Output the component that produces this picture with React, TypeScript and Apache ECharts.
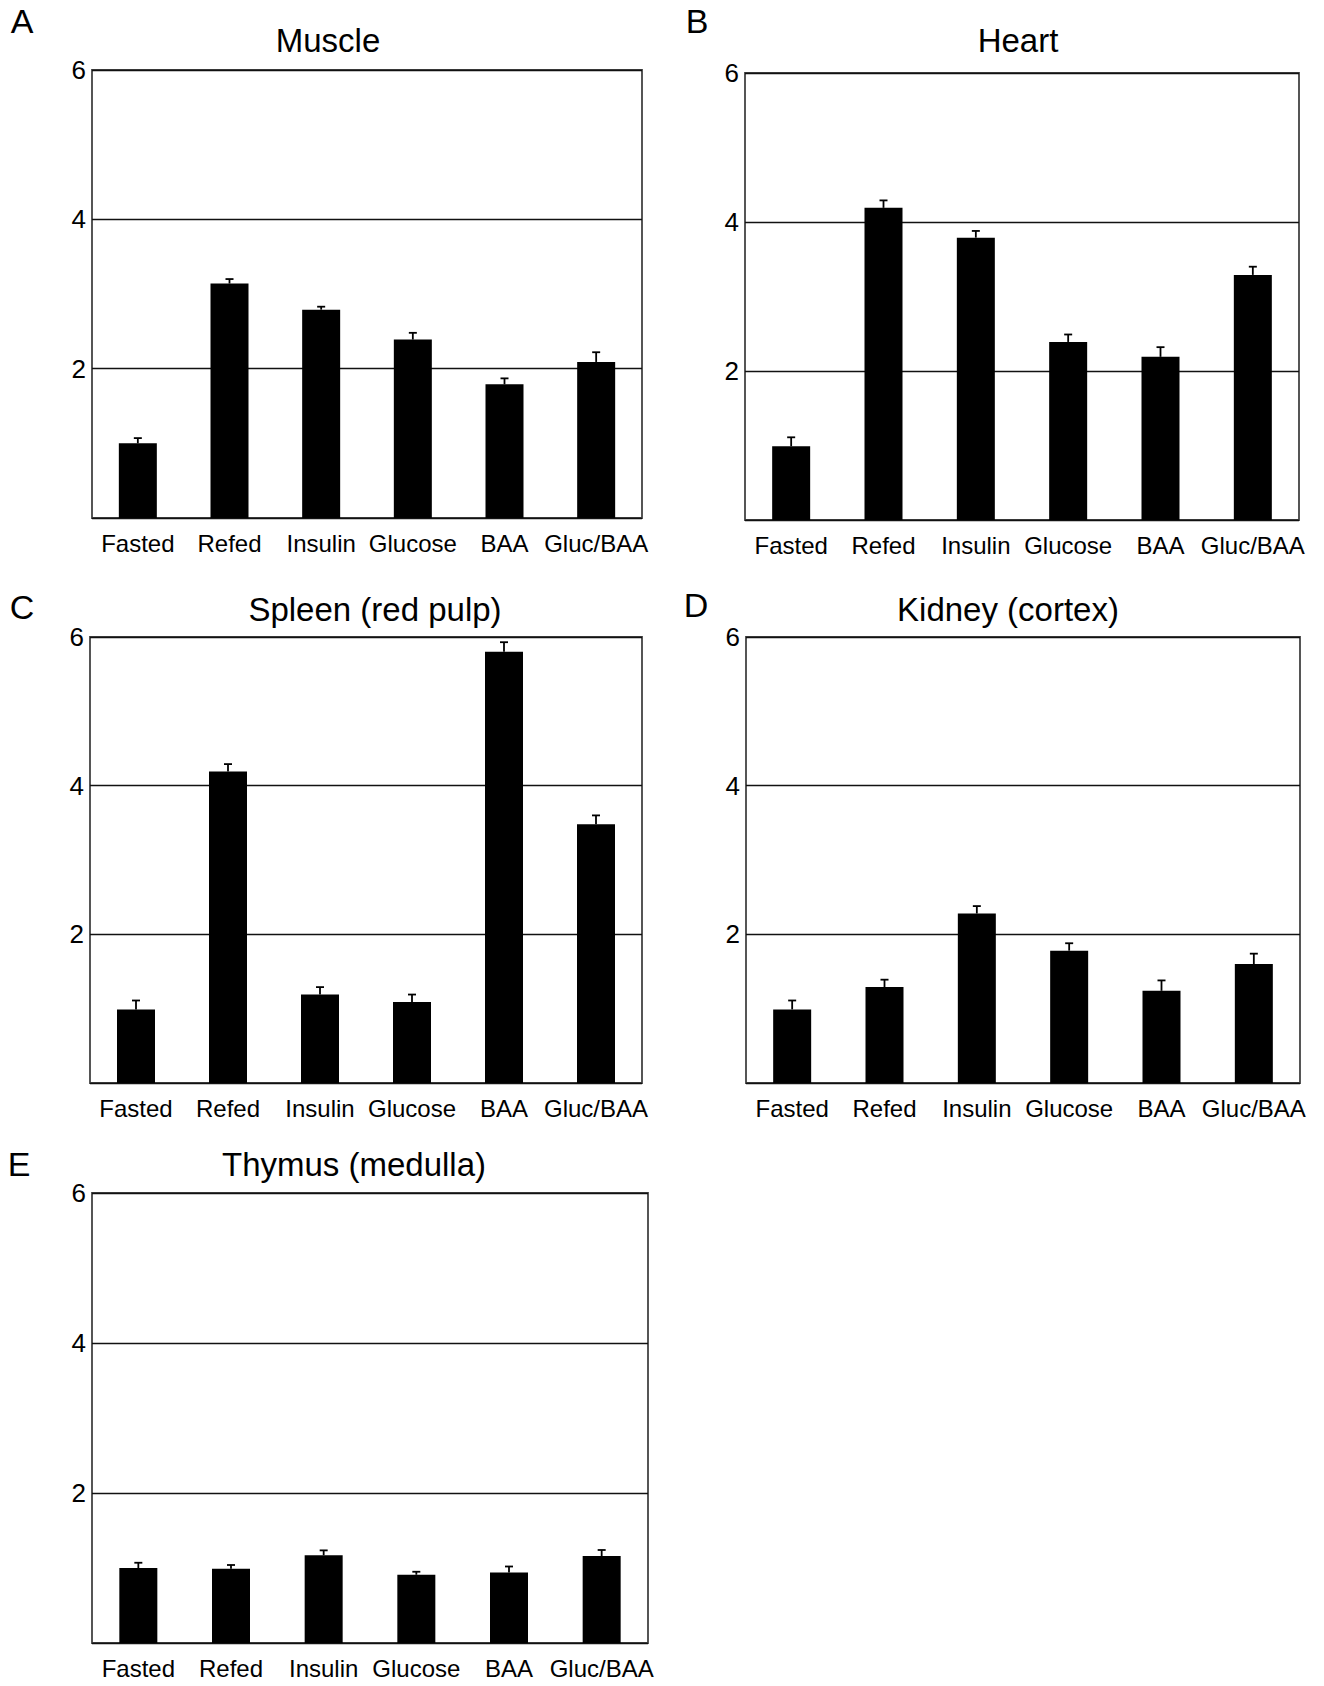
import React, { useEffect, useRef } from "react";
import * as echarts from "echarts";

const categories = ["Fasted", "Refed", "Insulin", "Glucose", "BAA", "Gluc/BAA"];
const yTicks = [0, 2, 4, 6];

const panelLetters = ["A", "B", "C", "D", "E"];
const panelTitles = ["Muscle", "Heart", "Spleen (red pulp)", "Kidney (cortex)", "Thymus (medulla)"];

const muscleValues = [1.0, 3.14, 2.79, 2.39, 1.79, 2.09];
const muscleErrors = [0.07, 0.06, 0.04, 0.09, 0.08, 0.13];
const heartValues = [0.99, 4.19, 3.79, 2.39, 2.19, 3.29];
const heartErrors = [0.12, 0.1, 0.09, 0.1, 0.13, 0.11];
const spleenValues = [0.99, 4.19, 1.19, 1.09, 5.8, 3.48];
const spleenErrors = [0.12, 0.1, 0.1, 0.1, 0.13, 0.12];
const kidneyValues = [0.99, 1.29, 2.28, 1.78, 1.24, 1.6];
const kidneyErrors = [0.12, 0.1, 0.1, 0.1, 0.14, 0.14];
const thymusValues = [1.0, 0.99, 1.17, 0.91, 0.94, 1.16];
const thymusErrors = [0.07, 0.05, 0.065, 0.04, 0.08, 0.08];

const allValues = [muscleValues, heartValues, spleenValues, kidneyValues, thymusValues];
const allErrors = [muscleErrors, heartErrors, spleenErrors, kidneyErrors, thymusErrors];

const FONT = "Liberation Sans, Arial, Helvetica, sans-serif";

const grids = [
  { left: 92, top: 70, width: 550, height: 448 },
  { left: 745, top: 73, width: 554, height: 447 },
  { left: 90, top: 637, width: 552, height: 446 },
  { left: 746, top: 637, width: 554, height: 446 },
  { left: 92, top: 1193, width: 556, height: 450 },
];
const titlePos = [
  [328, 40],
  [1018, 40],
  [375, 609],
  [1008, 609],
  [354, 1164],
];
const letterPos = [
  [22, 21],
  [697, 21],
  [22, 607],
  [696, 605],
  [19, 1164],
];

export default function App() {
  const ref = useRef<HTMLDivElement>(null);
  useEffect(() => {
    if (!ref.current) return;
    const chart = echarts.init(ref.current, undefined, { renderer: "svg" });
    const xAxis: any[] = [];
    const yAxis: any[] = [];
    const series: any[] = [];
    const graphic: any[] = [];
    grids.forEach((g, i) => {
      xAxis.push({
        type: "category",
        gridIndex: i,
        data: categories,
        axisTick: { show: false },
        axisLine: { show: false },
        axisLabel: { interval: 0, color: "#000", fontSize: 24, fontFamily: FONT, margin: 13 },
      });
      yAxis.push({
        type: "value",
        gridIndex: i,
        min: yTicks[0],
        max: yTicks[yTicks.length - 1],
        interval: 2,
        axisTick: { show: false },
        axisLine: { show: false },
        axisLabel: {
          color: "#000",
          fontSize: 26,
          fontFamily: FONT,
          margin: 6,
          formatter: (v: number) => (v === 0 ? "" : String(v)),
        },
        splitLine: { show: true, lineStyle: { color: "#111", width: 1.4 } },
      });
      series.push({
        type: "bar",
        xAxisIndex: i,
        yAxisIndex: i,
        data: allValues[i],
        barWidth: 38,
        itemStyle: { color: "#000" },
        z: 3,
      });
      series.push({
        type: "custom",
        xAxisIndex: i,
        yAxisIndex: i,
        data: allValues[i].map((v, k) => [k, v, allErrors[i][k]]),
        z: 4,
        renderItem: (params: any, api: any) => {
          const base = api.coord([api.value(0), api.value(1)]);
          const top = api.coord([api.value(0), api.value(1) + api.value(2)]);
          const st = { stroke: "#000", lineWidth: 1.8 };
          return {
            type: "group",
            children: [
              { type: "line", shape: { x1: base[0], y1: base[1], x2: base[0], y2: top[1] }, style: st },
              { type: "line", shape: { x1: base[0] - 4, y1: top[1], x2: base[0] + 4, y2: top[1] }, style: st },
            ],
          };
        },
      });
      graphic.push({
        type: "text",
        x: titlePos[i][0],
        y: titlePos[i][1],
        style: {
          text: panelTitles[i],
          fill: "#000",
          font: `33px ${FONT}`,
          textAlign: "center",
          textVerticalAlign: "middle",
        },
      });
      graphic.push({
        type: "text",
        x: letterPos[i][0],
        y: letterPos[i][1],
        style: {
          text: panelLetters[i],
          fill: "#000",
          font: `34px ${FONT}`,
          textAlign: "center",
          textVerticalAlign: "middle",
        },
      });
    });
    chart.setOption({
      animation: false,
      backgroundColor: "#fff",
      grid: grids.map((g) => ({ ...g, show: true, borderColor: "#444", borderWidth: 1.8, backgroundColor: "transparent" })),
      xAxis,
      yAxis,
      series,
      graphic,
    });
    return () => chart.dispose();
  }, []);
  return (
    <div
      ref={ref}
      style={{ position: "absolute", left: 0, top: 0, width: 1324, height: 1686, background: "#fff" }}
    />
  );
}
